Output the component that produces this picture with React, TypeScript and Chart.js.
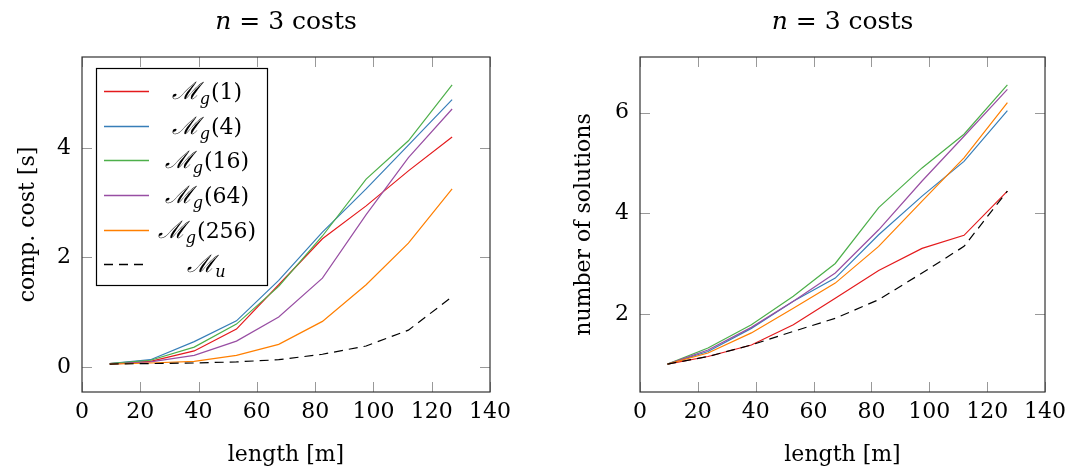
import React, { useEffect, useRef } from "react";
import { Chart, registerables } from "chart.js";
Chart.register(...registerables);

// ---------- data ----------
const lengths = [9.5, 23.5, 38.5, 53, 67.5, 82.5, 97.5, 112, 127];

const costMg1 = [0.06, 0.1, 0.29, 0.69, 1.5, 2.34, 2.94, 3.58, 4.2];
const costMg4 = [0.06, 0.13, 0.46, 0.84, 1.58, 2.46, 3.25, 4.05, 4.88];
const costMg16 = [0.06, 0.12, 0.36, 0.78, 1.47, 2.39, 3.43, 4.13, 5.15];
const costMg64 = [0.05, 0.09, 0.21, 0.47, 0.91, 1.62, 2.78, 3.82, 4.71];
const costMg256 = [0.05, 0.07, 0.1, 0.21, 0.41, 0.83, 1.5, 2.26, 3.25];
const costMu = [0.05, 0.06, 0.07, 0.09, 0.13, 0.23, 0.38, 0.67, 1.28];

const solMg1 = [1.0, 1.15, 1.38, 1.78, 2.31, 2.86, 3.3, 3.56, 4.44];
const solMg4 = [1.0, 1.25, 1.71, 2.25, 2.71, 3.57, 4.34, 5.03, 6.04];
const solMg16 = [1.0, 1.32, 1.78, 2.35, 3.0, 4.11, 4.9, 5.57, 6.55];
const solMg64 = [1.0, 1.28, 1.73, 2.25, 2.81, 3.67, 4.64, 5.53, 6.46];
const solMg256 = [1.0, 1.22, 1.62, 2.11, 2.61, 3.34, 4.24, 5.1, 6.2];
const solMu = [1.0, 1.15, 1.38, 1.65, 1.91, 2.28, 2.81, 3.34, 4.44];

const seriesNames = ["ℳg(1)", "ℳg(4)", "ℳg(16)", "ℳg(64)", "ℳg(256)", "ℳu"];
const legendSub = ["g", "g", "g", "g", "g", "u"];
const legendArg = ["(1)", "(4)", "(16)", "(64)", "(256)", ""];
const seriesColors = ["#e41a1c", "#377eb8", "#4daf4a", "#984ea3", "#ff7f00", "#000000"];

const xTicks = [0, 20, 40, 60, 80, 100, 120, 140];
const costTicks = [0, 2, 4];
const solTicks = [2, 4, 6];

const titleVar = "n";
const titleRest = " = 3 costs";
const xLabel = "length [m]";
const costLabel = "comp. cost [s]";
const solLabel = "number of solutions";

const SERIF = "'DejaVu Serif', serif";

function enlarge(vals: number[][]) {
  const all = vals.flat();
  const mn = Math.min(...all);
  const mx = Math.max(...all);
  const r = mx - mn;
  return { min: mn - 0.1 * r, max: mx + 0.1 * r };
}

const framePlugin = {
  id: "frame",
  afterDraw(chart: any, _args: any, opts: any) {
    const { ctx, chartArea } = chart;
    const { left, right, top, bottom } = chartArea;
    const xs = chart.scales.x;
    const ys = chart.scales.y;
    ctx.save();
    // inside ticks
    ctx.strokeStyle = "#999999";
    ctx.lineWidth = 1;
    const tl = 10;
    ctx.beginPath();
    xs.ticks.forEach((t: any) => {
      const px = Math.round(xs.getPixelForValue(t.value)) + 0.5;
      ctx.moveTo(px, bottom);
      ctx.lineTo(px, bottom - tl);
      ctx.moveTo(px, top);
      ctx.lineTo(px, top + tl);
    });
    ys.ticks.forEach((t: any) => {
      const py = Math.round(ys.getPixelForValue(t.value)) + 0.5;
      ctx.moveTo(left, py);
      ctx.lineTo(left + tl, py);
      ctx.moveTo(right, py);
      ctx.lineTo(right - tl, py);
    });
    ctx.stroke();
    // border
    ctx.strokeStyle = "#333333";
    ctx.lineWidth = 1.2;
    ctx.strokeRect(left, top, right - left, bottom - top);

    // title
    const cx = (left + right) / 2;
    ctx.fillStyle = "#000";
    ctx.textBaseline = "middle";
    ctx.textAlign = "left";
    ctx.font = `italic 25px ${SERIF}`;
    const w1 = ctx.measureText(titleVar).width;
    ctx.font = `25px ${SERIF}`;
    const w2 = ctx.measureText(titleRest).width;
    const x0 = cx - (w1 + w2) / 2;
    ctx.font = `italic 25px ${SERIF}`;
    ctx.fillText(titleVar, x0, 22);
    ctx.font = `25px ${SERIF}`;
    ctx.fillText(titleRest, x0 + w1, 22);

    // legend
    if (opts && opts.legend) {
      const bx = 96, by = 68, bw = 171, bh = 217;
      ctx.fillStyle = "#fff";
      ctx.fillRect(bx, by, bw, bh);
      ctx.strokeStyle = "#000";
      ctx.lineWidth = 1.2;
      ctx.strokeRect(bx + 0.5, by + 0.5, bw, bh);
      const rowY = [91, 126, 160, 195, 230, 264];
      chart.data.datasets.forEach((ds: any, i: number) => {
        const y = rowY[i];
        ctx.save();
        ctx.strokeStyle = ds.borderColor;
        ctx.lineWidth = 1.3;
        ctx.setLineDash(ds.borderDash || []);
        ctx.beginPath();
        ctx.moveTo(104, y + 0.5);
        ctx.lineTo(149, y + 0.5);
        ctx.stroke();
        ctx.restore();
        ctx.fillStyle = "#000";
        ctx.textBaseline = "alphabetic";
        const base = y + 8;
        ctx.font = `italic 24px ${SERIF}`;
        const wm = ctx.measureText("ℳ").width;
        ctx.font = `italic 16px ${SERIF}`;
        const ws = ctx.measureText(legendSub[i]).width;
        ctx.font = `22px ${SERIF}`;
        const wa = ctx.measureText(legendArg[i]).width;
        let tx = 207 - (wm + ws + 1 + wa) / 2;
        ctx.font = `italic 24px ${SERIF}`;
        ctx.fillText("ℳ", tx, base);
        tx += wm;
        ctx.font = `italic 16px ${SERIF}`;
        ctx.fillText(legendSub[i], tx, base + 5);
        tx += ws + 1;
        ctx.font = `22px ${SERIF}`;
        ctx.fillText(legendArg[i], tx, base);
      });
    }
    ctx.restore();
  },
};

function makeConfig(
  series: number[][],
  yTicks: number[],
  yLabel: string,
  yWidth: number,
  yTitlePad: number,
  padRight: number,
  showLegend: boolean
): any {
  const ext = enlarge(series);
  return {
    type: "line",
    data: {
      datasets: series.map((vals, i) => ({
        label: seriesNames[i],
        data: vals.map((v, j) => ({ x: lengths[j], y: v })),
        borderColor: seriesColors[i],
        backgroundColor: seriesColors[i],
        borderWidth: 1.2,
        borderDash: i === 5 ? [9, 6] : [],
        pointRadius: 0,
        tension: 0,
        fill: false,
        order: series.length - i,
      })),
    },
    options: {
      animation: false,
      responsive: false,
      layout: { padding: { left: 0, right: padRight, top: 57, bottom: 0 } },
      plugins: {
        legend: { display: false },
        tooltip: { enabled: false },
        title: { display: false },
        frame: { legend: showLegend },
      },
      scales: {
        x: {
          type: "linear",
          min: 0,
          max: 140,
          afterBuildTicks: (s: any) => {
            s.ticks = xTicks.map((v) => ({ value: v }));
          },
          afterFit: (s: any) => {
            s.height = 80;
          },
          grid: { display: false, drawTicks: false },
          border: { display: false },
          ticks: {
            padding: 7,
            color: "#000",
            font: { family: SERIF, size: 22 },
            maxRotation: 0,
          },
          title: {
            display: true,
            text: xLabel,
            color: "#000",
            font: { family: SERIF, size: 22 },
            padding: { top: 0, bottom: 4 },
          },
        },
        y: {
          type: "linear",
          min: ext.min,
          max: ext.max,
          afterBuildTicks: (s: any) => {
            s.ticks = yTicks.map((v) => ({ value: v }));
          },
          afterFit: (s: any) => {
            s.width = yWidth;
          },
          grid: { display: false, drawTicks: false },
          border: { display: false },
          ticks: {
            padding: 11,
            color: "#000",
            font: { family: SERIF, size: 22 },
          },
          title: {
            display: true,
            text: yLabel,
            color: "#000",
            font: { family: SERIF, size: 22 },
            padding: { top: yTitlePad, bottom: 0 },
          },
        },
      },
    },
    plugins: [framePlugin],
  };
}

function ChartCanvas({ config, width, height }: { config: any; width: number; height: number }) {
  const ref = useRef<HTMLCanvasElement | null>(null);
  useEffect(() => {
    if (!ref.current) return;
    const chart = new Chart(ref.current, config);
    return () => chart.destroy();
  }, [config]);
  return <canvas ref={ref} width={width} height={height} style={{ display: "block", width, height }} />;
}

const leftConfig = makeConfig(
  [costMg1, costMg4, costMg16, costMg64, costMg256, costMu],
  costTicks,
  costLabel,
  82,
  15,
  46,
  true
);
const rightConfig = makeConfig(
  [solMg1, solMg4, solMg16, solMg64, solMg256, solMu],
  solTicks,
  solLabel,
  104,
  35,
  26,
  false
);

export default function App() {
  return (
    <div
      style={{
        position: "fixed",
        left: 0,
        top: 0,
        width: 1073,
        height: 472,
        background: "#fff",
        display: "flex",
      }}
    >
      <ChartCanvas config={leftConfig} width={536} height={472} />
      <ChartCanvas config={rightConfig} width={537} height={472} />
    </div>
  );
}
